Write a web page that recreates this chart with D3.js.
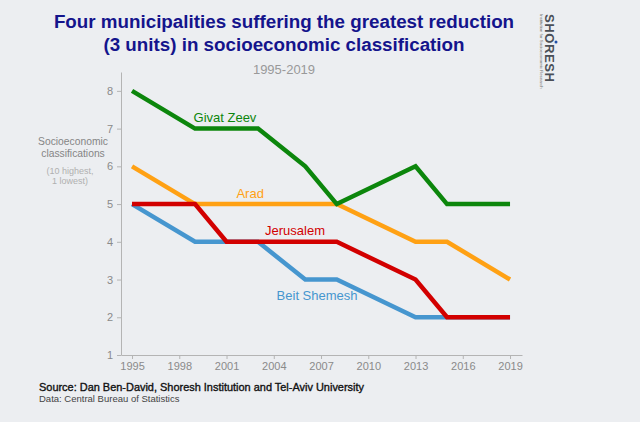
<!DOCTYPE html>
<html>
<head>
    <title>Four municipalities suffering the greatest reduction</title>
    <script src="https://cdnjs.cloudflare.com/ajax/libs/d3/7.8.5/d3.min.js"></script>
    <style>
        body {
            margin: 0;
            background-color: #eceef1;
            font-family: Arial, "Liberation Sans", sans-serif;
        }
        .axis text {
            font-family: Arial, "Liberation Sans", sans-serif;
            font-size: 11px;
            fill: #8a8a8a;
        }
        .axis path, .axis line {
            stroke: #b4b4b4;
        }
    </style>
</head>
<body>
    <div id="chart"></div>

    <script>
        // Survey years and classification per municipality
        const years = [1995, 1999, 2001, 2003, 2006, 2008, 2013, 2015, 2019];
        const givatZeev = [8, 7, 7, 7, 6, 5, 6, 5, 5];
        const arad = [6, 5, 5, 5, 5, 5, 4, 4, 3];
        const jerusalem = [5, 5, 4, 4, 4, 4, 3, 2, 2];
        const beitShemesh = [5, 4, 4, 4, 3, 3, 2, 2, 2];

        const xTicks = [1995, 1998, 2001, 2004, 2007, 2010, 2013, 2016, 2019];
        const yTicks = [1, 2, 3, 4, 5, 6, 7, 8];

        // label anchors are in data units (year, classification)
        const series = [
            {name: "Beit Shemesh", values: beitShemesh, color: "#4696cf", label: [2006.75, 2.46]},
            {name: "Arad", values: arad, color: "#ffa114", label: [2002.5, 5.16]},
            {name: "Jerusalem", values: jerusalem, color: "#d20000", label: [2005.35, 4.17]},
            {name: "Givat Zeev", values: givatZeev, color: "#0c860c", label: [2000.9, 7.18]}
        ];

        const width = 640;
        const height = 422;

        const svg = d3.select("#chart")
            .append("svg")
            .attr("width", width)
            .attr("height", height);

        const x = d3.scaleLinear()
            .domain([1994.3, 2019.76])
            .range([121, 522]);

        const y = d3.scaleLinear()
            .domain([1, 8.5])
            .range([355, 72]);

        // Title
        svg.append("text")
            .attr("x", 284)
            .attr("y", 28)
            .attr("text-anchor", "middle")
            .attr("font-size", 18.8)
            .attr("font-weight", "bold")
            .attr("fill", "#14148c")
            .text("Four municipalities suffering the greatest reduction");
        svg.append("text")
            .attr("x", 284)
            .attr("y", 51)
            .attr("text-anchor", "middle")
            .attr("font-size", 18.8)
            .attr("font-weight", "bold")
            .attr("fill", "#14148c")
            .text("(3 units) in socioeconomic classification");
        svg.append("text")
            .attr("x", 284)
            .attr("y", 74)
            .attr("text-anchor", "middle")
            .attr("font-size", 13)
            .attr("fill", "#999")
            .text("1995-2019");

        // Axes
        svg.append("g")
            .attr("class", "axis")
            .attr("transform", `translate(0,${y(1)})`)
            .call(d3.axisBottom(x).tickValues(xTicks).tickFormat(d3.format("d")).tickSize(4).tickSizeOuter(0).tickPadding(3));

        svg.append("g")
            .attr("class", "axis")
            .attr("transform", `translate(${x.range()[0]},0)`)
            .call(d3.axisLeft(y).tickValues(yTicks).tickSize(4).tickSizeOuter(0).tickPadding(4));

        // Y axis caption
        const cap = svg.append("g").attr("text-anchor", "middle");
        cap.append("text").attr("x", 73).attr("y", 145).attr("font-size", 10.3).attr("fill", "#858585").text("Socioeconomic");
        cap.append("text").attr("x", 73).attr("y", 157).attr("font-size", 10.3).attr("fill", "#858585").text("classifications");
        cap.append("text").attr("x", 70).attr("y", 174).attr("font-size", 9).attr("fill", "#b0b0b0").text("(10 highest,");
        cap.append("text").attr("x", 70).attr("y", 184).attr("font-size", 9).attr("fill", "#b0b0b0").text("1 lowest)");

        // Lines
        const line = d3.line()
            .x((d, i) => x(years[i]))
            .y(d => y(d));

        svg.append("g")
            .selectAll("path")
            .data(series)
            .enter()
            .append("path")
            .attr("fill", "none")
            .attr("stroke", d => d.color)
            .attr("stroke-width", 4.5)
            .attr("stroke-linejoin", "miter")
            .attr("d", d => line(d.values));

        svg.append("g")
            .selectAll("text")
            .data(series)
            .enter()
            .append("text")
            .attr("x", d => x(d.label[0]))
            .attr("y", d => y(d.label[1]))
            .attr("text-anchor", "middle")
            .attr("font-size", 13)
            .attr("fill", d => d.color)
            .text(d => d.name);

        // Source
        svg.append("text")
            .attr("x", 39)
            .attr("y", 390.5)
            .attr("font-size", 10.8)
            .attr("fill", "#111")
            .attr("stroke", "#111")
            .attr("stroke-width", 0.35)
            .attr("textLength", 325)
            .attr("lengthAdjust", "spacingAndGlyphs")
            .text("Source: Dan Ben-David, Shoresh Institution and Tel-Aviv University");
        svg.append("text")
            .attr("x", 39)
            .attr("y", 402)
            .attr("font-size", 9.5)
            .attr("fill", "#444")
            .text("Data: Central Bureau of Statistics");

        // Shoresh logo (vertical)
        const logo = svg.append("g").attr("transform", "translate(544,14) rotate(90)");
        logo.append("text")
            .attr("x", 0)
            .attr("y", -1)
            .attr("font-size", 13)
            .attr("font-weight", "bold")
            .attr("letter-spacing", 0.6)
            .attr("fill", "#4a4f57")
            .text("SHORESH");
        logo.append("circle")
            .attr("cx", 28)
            .attr("cy", -12)
            .attr("r", 1.5)
            .attr("fill", "#1f4fa8");
        logo.append("text")
            .attr("x", 0)
            .attr("y", 4)
            .attr("font-size", 4.3)
            .attr("fill", "#666")
            .text("Institution for Socioeconomic Research");
    </script>
</body>
</html>
